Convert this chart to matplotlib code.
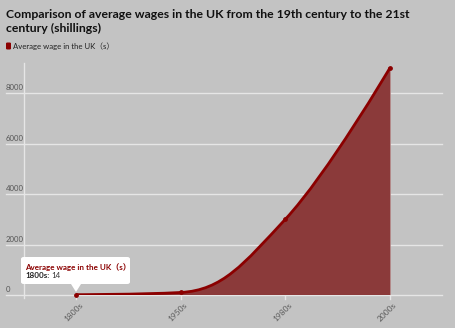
import numpy as np
import matplotlib
matplotlib.use("Agg")
import matplotlib.pyplot as plt
from matplotlib.path import Path
from matplotlib.patches import PathPatch, FancyBboxPatch, Polygon

categories = ["1800s", "1950s", "1980s", "2000s"]
values = [14, 100, 3000, 9000]
series_name = "Average wage in the UK（s）"
title = "Comparison of average wages in the UK from the 19th century to the 21st\ncentury (shillings)"
yticks = [0, 2000, 4000, 6000, 8000]

FONT = ["Lato", "Noto Sans CJK SC", "DejaVu Sans"]
plt.rcParams["font.family"] = FONT

BG = "#c3c3c3"
LINE = "#8b0000"
FILL = "#8b3a3a"
GRID = "#e6e6e6"

W, H = 455, 328
fig = plt.figure(figsize=(W / 100, H / 100), dpi=100, facecolor=BG)

# plot area in pixels: x from 24 to 442, y from 295 (0) upward
x0, x1 = 24, 442
ybot, ytop = 295, 63
ax = fig.add_axes([x0 / W, 1 - ybot / H, (x1 - x0) / W, (ybot - ytop) / H])
ax.set_facecolor(BG)
for s in ax.spines.values():
    s.set_visible(False)

n = len(categories)
xs = np.arange(n, dtype=float)
ys = np.array(values, dtype=float)
px_per_cat = (390 - 76) / 3
xmin = -(76 - x0) / px_per_cat
xmax = 3 + (x1 - 390) / px_per_cat
ymax = 2000 * (ybot - ytop) / 50.5
ax.set_xlim(xmin, xmax)
ax.set_ylim(0, ymax)

# Highcharts-style spline control points
sm = 1.5
den = sm + 1
lc = [(x, y) for x, y in zip(xs, ys)]
rc = [(x, y) for x, y in zip(xs, ys)]
for i in range(1, n - 1):
    px, py = xs[i], ys[i]
    lx, ly = xs[i - 1], ys[i - 1]
    nx, ny = xs[i + 1], ys[i + 1]
    lcx = (sm * px + lx) / den
    lcy = (sm * py + ly) / den
    rcx = (sm * px + nx) / den
    rcy = (sm * py + ny) / den
    corr = ((rcy - lcy) * (rcx - px)) / (rcx - lcx) + py - rcy
    lcy += corr
    rcy += corr
    if lcy > max(ly, py):
        lcy = max(ly, py); rcy = 2 * py - lcy
    elif lcy < min(ly, py):
        lcy = min(ly, py); rcy = 2 * py - lcy
    if rcy > max(py, ny):
        rcy = max(py, ny); lcy = 2 * py - rcy
    elif rcy < min(py, ny):
        rcy = min(py, ny); lcy = 2 * py - rcy
    lc[i] = (lcx, lcy)
    rc[i] = (rcx, rcy)

verts = [(xs[0], ys[0])]
codes = [Path.MOVETO]
for i in range(1, n):
    verts += [rc[i - 1], lc[i], (xs[i], ys[i])]
    codes += [Path.CURVE4] * 3
line_path = Path(verts, codes)

fill_verts = verts + [(xs[-1], 0), (xs[0], 0), (xs[0], ys[0])]
fill_codes = codes + [Path.LINETO, Path.LINETO, Path.CLOSEPOLY]

# grid
for t in yticks:
    ax.plot([xmin - (x0 - 6) / px_per_cat, xmax], [t, t], color=GRID, lw=1,
            clip_on=False, zorder=1)
    ax.text(-(x0 - 6) / (x1 - x0), t + 60, str(t), transform=ax.get_yaxis_transform(),
            fontsize=5.6, color="#555555", ha="left", va="bottom")
ax.plot([xmin, xmin], [-100, ymax], color=GRID, lw=1, clip_on=False, zorder=1)
for i in range(n):
    ax.plot([xs[i], xs[i]], [0, -140], color=GRID, lw=1, clip_on=False, zorder=1)

ax.add_patch(PathPatch(Path(fill_verts, fill_codes), facecolor=FILL, edgecolor="none",
                       zorder=2))
ax.plot([xs[-1], xs[-1]], [0, ys[-1]], color="#b08080", lw=0.6, zorder=2)
ax.add_patch(PathPatch(line_path, facecolor="none", edgecolor=LINE, lw=2, zorder=3))
ax.scatter(xs, ys, s=6, color=LINE, zorder=4, clip_on=False)

ax.set_xticks([])
ax.set_yticks([])
for i, c in enumerate(categories):
    ax.text(xs[i] + 0.03, -260, c, rotation=45, fontsize=6, color="#5a5a5a",
            ha="right", va="top", rotation_mode="anchor")

# title & legend
fig.text(6 / W, 1 - 9 / H, title, fontsize=8.8, fontweight="bold", color="#111111",
         ha="left", va="top", linespacing=1.3)
fig.patches.append(FancyBboxPatch((6 / W, 1 - 49.5 / H), 5 / W, 7 / H,
                                  boxstyle="round,pad=0,rounding_size=0.003",
                                  facecolor="#8b0000", edgecolor="none",
                                  transform=fig.transFigure))
fig.text(13 / W, 1 - 46 / H, series_name, fontsize=5.6, color="#222222",
         ha="left", va="center")

# tooltip
bx0, by0, bx1, by1 = 21, 257, 130, 284
tip = (76, 292)
box = FancyBboxPatch((bx0 / W, 1 - by1 / H), (bx1 - bx0) / W, (by1 - by0) / H,
                     boxstyle="round,pad=0,rounding_size=0.006", facecolor="white",
                     edgecolor="none", transform=fig.transFigure, zorder=10)
fig.patches.append(box)
fig.patches.append(Polygon([((tip[0] - 5) / W, 1 - by1 / H), ((tip[0] + 5) / W, 1 - by1 / H),
                            (tip[0] / W, 1 - tip[1] / H)], closed=True, facecolor="white",
                           edgecolor="none", transform=fig.transFigure, zorder=10))
fig.text(25 / W, 1 - 267 / H, series_name, fontsize=5.8, fontweight="bold", color="#8b0000",
         ha="left", va="center", zorder=11)
t1 = fig.text(25 / W, 1 - 276 / H, categories[0] + ":", fontsize=5.8, fontweight="bold",
              color="#222222", ha="left", va="center", zorder=11)
fig.canvas.draw()
bb = t1.get_window_extent()
fig.text((bb.x1 + 2) / W, 1 - 276 / H, str(values[0]), fontsize=5.8, color="#333333",
         ha="left", va="center", zorder=11)

fig.savefig("out.png", dpi=100, facecolor=BG)
